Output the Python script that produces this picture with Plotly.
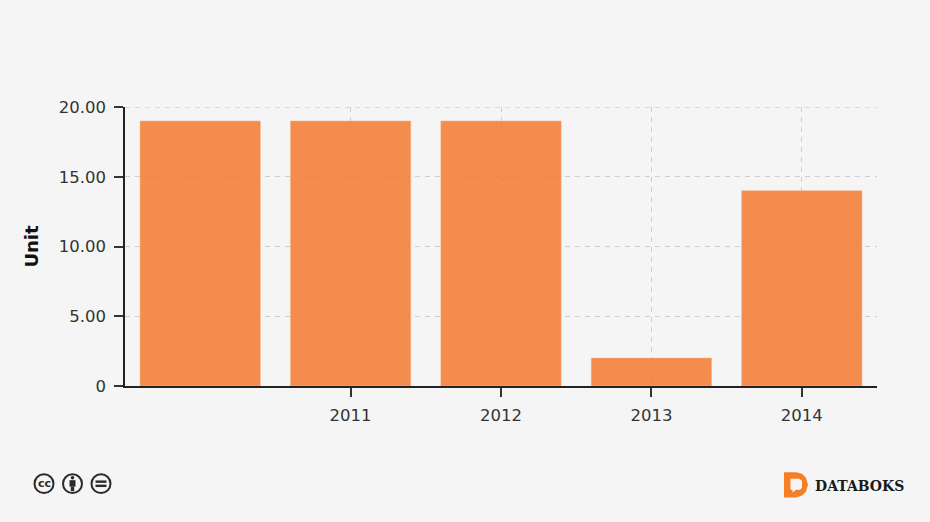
import plotly.graph_objects as go

years = [2010, 2011, 2012, 2013, 2014]
values = [19, 19, 19, 2, 14]
x_ticks = [2011, 2012, 2013, 2014]
x_labels = ["2011", "2012", "2013", "2014"]
y_ticks = [0, 5, 10, 15, 20]
y_labels = ["0", "5.00", "10.00", "15.00", "20.00"]

W, H = 930, 522
L, R, T, B = 125, 877, 106.5, 386.5
FONT = "DejaVu Sans"
INK = "#2a2a2a"
GRID = "#cfcfcf"


def px(x):
    return (x - L) / (R - L)


def py(y):
    return (B - y - 0.5) / (B - T)


def circle(cx, cy, r, **kw):
    return dict(type="circle", xref="paper", yref="paper",
                x0=px(cx - r), x1=px(cx + r), y0=py(cy + r), y1=py(cy - r), **kw)


def rect(x0, y0, x1, y1, color):
    return dict(type="rect", xref="paper", yref="paper", x0=px(x0), x1=px(x1),
                y0=py(y1), y1=py(y0), fillcolor=color, line_width=0)


def poly(points, color):
    d = "M " + " L ".join(f"{px(a):.5f},{py(b):.5f}" for a, b in points) + " Z"
    return dict(type="path", xref="paper", yref="paper", path=d, fillcolor=color, line_width=0)


ring = dict(line=dict(color=INK, width=2), fillcolor="rgba(0,0,0,0)")
shapes = [
    # gridline on the top tick, which plotly leaves out at the range edge
    dict(type="line", xref="paper", yref="y", x0=0, x1=1, y0=y_ticks[-1], y1=y_ticks[-1],
         line=dict(color=GRID, width=1.3, dash="5px,5px"), layer="below"),
    circle(44, 484, 9.5, **ring),
    circle(72.5, 484, 9.5, **ring),
    circle(101, 484, 9.5, **ring),
    # person icon
    circle(72.5, 478, 1.8, fillcolor=INK, line_width=0),
    rect(69.5, 480.5, 75.5, 487, INK),
    rect(70.8, 487, 74.2, 491.5, INK),
    # equals icon
    rect(95.5, 480.8, 106.5, 483.2, INK),
    rect(95.5, 485, 106.5, 487.4, INK),
    # logo mark
    poly([(784, 472.5), (796, 472.5), (802, 474), (806, 478), (808, 485), (806, 492),
          (802, 496), (796, 498), (784, 498)], "#f47f25"),
    poly([(790.5, 479), (799, 479), (802, 481), (802, 488), (800, 490), (796, 490),
          (792.5, 493), (792.5, 490), (790.5, 490)], "#f5f5f5"),
]

annotations = [
    dict(text="<b>cc</b>", xref="paper", yref="paper", x=px(44), y=py(483.5), showarrow=False,
         xanchor="center", yanchor="middle", font=dict(family=FONT, size=11, color=INK)),
    dict(text="<b>DATABOKS</b>", xref="paper", yref="paper", x=px(812.5), y=py(486), showarrow=False,
         xanchor="left", yanchor="middle", font=dict(family="DejaVu Serif", size=14, color="#1a1a1a")),
]

fig = go.Figure(go.Bar(
    x=years, y=values,
    marker=dict(color="#f47a30", opacity=0.85, line=dict(color="#f9a877", width=0.5)),
    showlegend=False,
))

fig.update_layout(
    width=W, height=H, autosize=False,
    margin=dict(l=L, r=W - R, t=T, b=H - B, pad=0),
    paper_bgcolor="#f5f5f5", plot_bgcolor="#f5f5f5",
    bargap=0.2,
    font=dict(family=FONT, size=16.5, color="#333333"),
    shapes=shapes, annotations=annotations,
)
fig.update_xaxes(
    range=[2009.5, 2014.5], tickmode="array", tickvals=x_ticks, ticktext=x_labels,
    showgrid=True, gridcolor=GRID, griddash="5px,5px", gridwidth=1.3,
    showline=True, linecolor="#222222", linewidth=1.5,
    ticks="outside", ticklen=9, tickcolor="#333333", tickwidth=1.5,
    ticklabelstandoff=4, zeroline=False,
)
fig.update_yaxes(
    range=[0, 20], tickmode="array", tickvals=y_ticks, ticktext=y_labels,
    showgrid=True, gridcolor=GRID, griddash="5px,5px", gridwidth=1.3,
    showline=True, linecolor="#222222", linewidth=1.5,
    ticks="outside", ticklen=9, tickcolor="#333333", tickwidth=1.5,
    ticklabelstandoff=5, zeroline=False,
    title=dict(text="<b>Unit</b>", font=dict(size=18, color="#111111"), standoff=15),
)

fig.write_html("out.html", config={"displayModeBar": False},
               post_script="document.body.style.margin='0';document.body.style.background='#f5f5f5';")
